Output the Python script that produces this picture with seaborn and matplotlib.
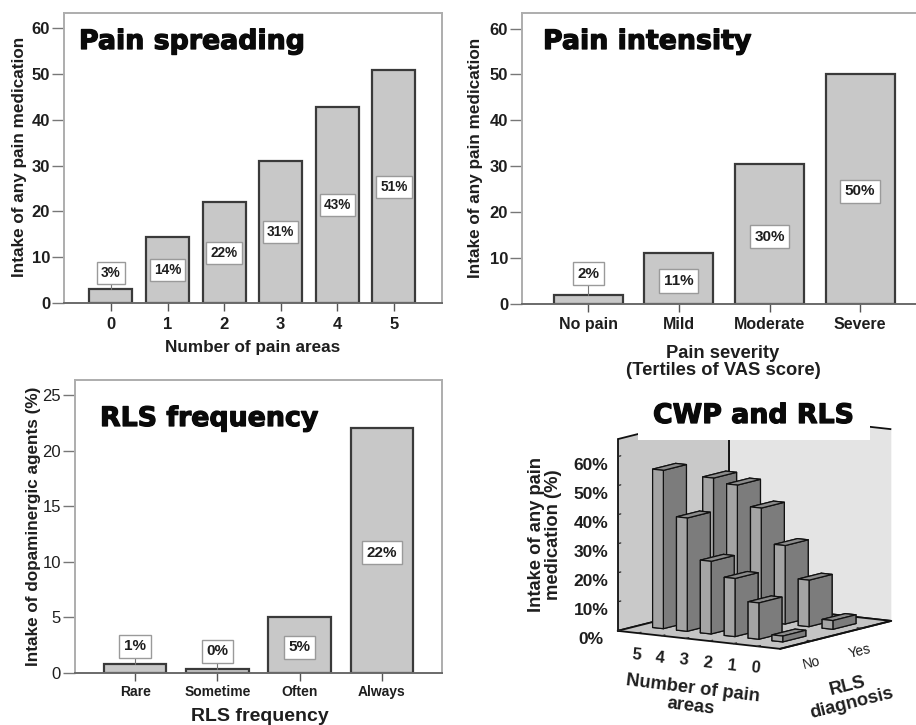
import numpy as np
import pandas as pd
import matplotlib
matplotlib.use("Agg")
import matplotlib.pyplot as plt
import matplotlib.patheffects as pe
from matplotlib.patches import Rectangle
from mpl_toolkits.mplot3d import Axes3D  # noqa: F401
import seaborn as sns

W, H = 916, 725
sns.set_style("white")
plt.rcParams["font.family"] = ["Liberation Sans", "DejaVu Sans"]

spread_labels = ["0", "1", "2", "3", "4", "5"]
spread_values = [3, 14.4, 22, 31, 42.7, 50.8]
spread_text = ["3%", "14%", "22%", "31%", "43%", "51%"]

intensity_labels = ["No pain", "Mild", "Moderate", "Severe"]
intensity_values = [1.9, 11, 30.4, 50.1]
intensity_text = ["2%", "11%", "30%", "50%"]

freq_labels = ["Rare", "Sometime", "Often", "Always"]
freq_values = [0.8, 0.35, 5, 22]
freq_text = ["1%", "0%", "5%", "22%"]

pain_areas = [0, 1, 2, 3, 4, 5]
rls_names = ["No", "Yes"]
cwp_no = [2, 12.5, 20, 25, 39, 54.5]
cwp_yes = [3, 16, 27, 39, 46, 47.5]

FRAME = "#adadad"
DARK = "#3a3a3a"
TXT = "#1e1e1e"
BAR = "#c8c8c8"


def axes_px(l, t, r, b, **kw):
    return fig.add_axes([l / W, 1 - b / H, (r - l) / W, (b - t) / H], **kw)


def ftext(x, y, s, **kw):
    return fig.text(x / W, 1 - y / H, s, **kw)


def panel(ax, cats, vals, texts, xlim, ylim, yticks, ylabel, xlabel,
          ylab_xy, xlab_xy, low_label, xlabel_size=12.3, tick_size=12,
          ytick_weight="bold", xtick_size=11.5, label_size=9.8, xpad=4):
    df = pd.DataFrame({"cat": cats, "val": vals})
    sns.barplot(data=df, x="cat", y="val", order=cats, color=BAR, saturation=1,
                width=0.76, edgecolor=DARK, linewidth=1.6, ax=ax)
    ax.set_xlim(*xlim)
    ax.set_ylim(*ylim)
    ax.set_yticks(yticks)
    for s in ax.spines.values():
        s.set_color(FRAME)
        s.set_linewidth(1.4)
    ax.spines["bottom"].set_color("#6a6a6a")
    ax.tick_params(axis="y", left=True, length=8.5, width=1, color="#777777",
                   labelsize=tick_size, labelcolor=TXT, pad=1.5)
    ax.tick_params(axis="x", bottom=True, length=6, width=1, color="#555555",
                   labelsize=xtick_size, labelcolor=TXT, pad=xpad)
    for t in ax.get_xticklabels():
        t.set_fontweight("bold")
    for t in ax.get_yticklabels():
        t.set_fontweight(ytick_weight)
    ax.set_ylabel(ylabel, fontsize=12.3, fontweight="bold", color=TXT, va="center")
    ax.set_xlabel(xlabel, fontsize=xlabel_size, fontweight="bold", color=TXT, va="center",
                  linespacing=1.0)
    ax.yaxis.set_label_coords(*ylab_xy)
    ax.xaxis.set_label_coords(*xlab_xy)
    box = dict(boxstyle="square,pad=0.3", fc="white", ec="#9a9a9a", lw=1)
    for i, (v, s) in enumerate(zip(vals, texts)):
        y = low_label(v)
        if y > v:
            ax.plot([i, i], [v, y], color="#777777", lw=0.8, zorder=3)
        ax.text(i, y, s, ha="center", va="center", fontsize=label_size, fontweight="bold",
                color=TXT, bbox=box, zorder=4)


fig = plt.figure(figsize=(W / 100, H / 100), dpi=100, facecolor="white")

# Pain spreading
ax1 = axes_px(64, 13, 442, 303)
panel(ax1, spread_labels, spread_values, spread_text, (-0.83, 5.85), (0, 63.3),
      range(0, 61, 10), "Intake of any pain medication", "Number of pain areas",
      (-0.117, 0.503), (0.5, -0.155), lambda v: 6.5 if v < 5 else v / 2,
      xtick_size=12)

# Pain intensity
ax2 = axes_px(522, 13, 920, 303.5)
panel(ax2, intensity_labels, intensity_values, intensity_text, (-0.73, 3.66), (0, 63.4),
      range(0, 61, 10), "Intake of any pain medication",
      "Pain severity\n(Tertiles of VAS score)",
      (-0.118, 0.5), (0.505, -0.2), lambda v: 6.5 if v < 5 else v / 2 - 0.6,
      xlabel_size=13.2, label_size=11)

# RLS frequency
ax3 = axes_px(75, 380, 442, 673)
panel(ax3, freq_labels, freq_values, freq_text, (-0.73, 3.73), (0, 26.35),
      range(0, 26, 5), "Intake of dopaminergic agents (%)", "RLS frequency",
      (-0.112, 0.501), (0.503, -0.15), lambda v: v + 1.6 if v < 2 else v / 2 - 0.2,
      xlabel_size=14, ytick_weight="normal", xtick_size=10, label_size=11, xpad=2.5)

# CWP and RLS (3D)
ax4 = axes_px(584.5, 369, 915.5, 700, projection="3d", proj_type="ortho",
              elev=9.6, azim=-146.4)
ax4.patch.set_alpha(0)
ax4.set_box_aspect((200.7, 194.5, 194))
ax4.set_xlim(-0.63, 1.59, view_margin=0)
ax4.set_ylim(-0.95, 5.85, view_margin=0)
ax4.set_zlim(0, 66, view_margin=0)
ax4.grid(False)

xs, ys, hs = [], [], []
for r, row in enumerate([cwp_no, cwp_yes]):
    for p, v in zip(pain_areas, row):
        xs.append(r)
        ys.append(p)
        hs.append(v)
dx, dy = 0.46, 0.45
order = sorted(range(len(xs)), key=lambda k: (-xs[k], -ys[k]))
for k in order:
    # faces: bottom, top, -y, +y, -x, +x
    ax4.bar3d(xs[k] - dx / 2, ys[k] - dy / 2, 0, dx, dy, hs[k],
              color=["#808080", "#8c8c8c", "#7c7c7c", "#7c7c7c", "#a4a4a4", "#a4a4a4"],
              edgecolor="#111111", linewidth=0.9, shade=False)

ax4.set_xticks([0, 1])
ax4.set_xticklabels(rls_names, fontsize=10, rotation=14, color=TXT, ha="right")
ax4.set_yticks(pain_areas)
ax4.set_yticklabels([str(p) for p in pain_areas], fontsize=12, fontweight="bold",
                    rotation=-6, color=TXT, ha="left")
ax4.set_zticks(range(0, 61, 10))
ax4.set_zticklabels([f"{z}%" for z in range(0, 61, 10)], fontsize=12.5, fontweight="bold", color=TXT)
ax4.xaxis.set_pane_color("#e4e4e4")
ax4.yaxis.set_pane_color("#c9c9c9")
ax4.zaxis.set_pane_color("#c4c4c4")
for a in (ax4.xaxis, ax4.yaxis, ax4.zaxis):
    a.pane.set_edgecolor("#111111")
    a.pane.set_linewidth(1.3)
    a.line.set_color("#111111")
    a.line.set_linewidth(1.3)
    a._axinfo["tick"]["inward_factor"] = 0
    a._axinfo["tick"]["outward_factor"] = 0.35
    a._axinfo["tick"]["linewidth"] = {True: 0.9, False: 0.5}
    a._axinfo["tick"]["color"] = "#555555"
ax4.tick_params(axis="x", pad=0)
ax4.tick_params(axis="y", pad=0)
ax4.tick_params(axis="z", pad=4)

# White band behind the 3D title
fig.add_artist(Rectangle((638 / W, 1 - 440 / H), 232 / W, 50 / H, transform=fig.transFigure,
                         fc="white", ec="none", zorder=5))

title_kw = dict(family="DejaVu Sans", fontweight="bold", fontsize=19.3, color="#0a0a0a",
                va="baseline", ha="left", zorder=6,
                path_effects=[pe.withStroke(linewidth=0.9, foreground="#0a0a0a")])
ftext(79, 49, "Pain spreading", **title_kw)
ftext(543, 49, "Pain intensity", **title_kw)
ftext(100, 426, "RLS frequency", **title_kw)
ftext(653, 423, "CWP and RLS", **title_kw)

lab_kw = dict(fontweight="bold", fontsize=13.2, color=TXT, ha="center", va="center",
              linespacing=1.05, multialignment="center")
ftext(545, 535, "Intake of any pain\nmedication (%)", rotation=90, **lab_kw)
ftext(692, 698, "Number of pain\nareas", rotation=-7, **lab_kw)
ftext(850, 695, "RLS\ndiagnosis", rotation=14, **lab_kw)

fig.savefig("out.png", dpi=100)
